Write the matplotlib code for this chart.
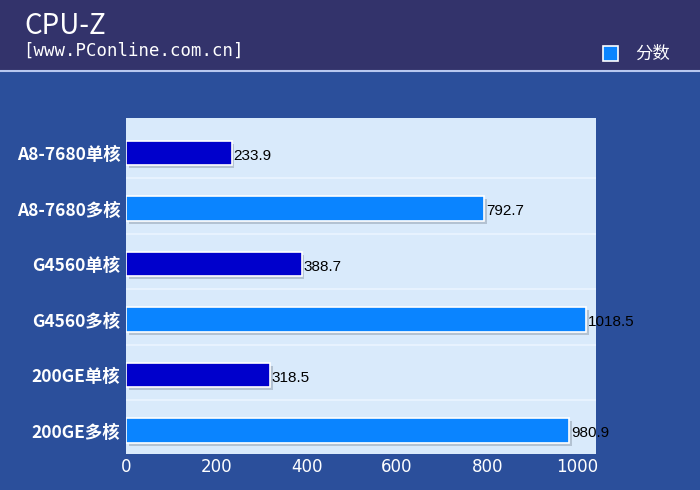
import numpy as np
import matplotlib.pyplot as plt
import matplotlib.patheffects as pe
from matplotlib.patches import Rectangle

plt.rcParams['font.family'] = ['Noto Sans CJK SC', 'DejaVu Sans']

# Daten
kategorien = ['A8-7680单核', 'A8-7680多核', 'G4560单核', 'G4560多核', '200GE单核', '200GE多核']
werte = [233.9, 792.7, 388.7, 1018.5, 318.5, 980.9]
farben = ['#0000cc', '#0a84ff', '#0000cc', '#0a84ff', '#0000cc', '#0a84ff']
xticks = [0, 200, 400, 600, 800, 1000]

fig = plt.figure(figsize=(7, 4.9), dpi=100, facecolor='#2b4f9b')

# Kopfbereich
fig.patches.append(Rectangle((0, 0.855), 1, 0.145, transform=fig.transFigure,
                             facecolor='#33336b', edgecolor='none', zorder=0))
fig.lines.append(plt.Line2D([0, 1], [0.855, 0.855], transform=fig.transFigure,
                            color='#b8c8f0', lw=1.5))
fig.text(0.035, 0.947, 'CPU-Z', color='white', fontsize=20, va='center', ha='left')
fig.text(0.033, 0.897, '[www.PConline.com.cn]', color='white', fontsize=12.5,
         va='center', ha='left', family='DejaVu Sans Mono')
fig.patches.append(Rectangle((0.862, 0.876), 0.021, 0.031, transform=fig.transFigure,
                             facecolor='#0a84ff', edgecolor='white', lw=1.2))
fig.text(0.907, 0.891, '分数', color='white', fontsize=12.5, va='center', ha='left')

ax = fig.add_axes([0.18, 0.0735, 0.671, 0.6855])
ax.set_facecolor('#d9eafb')

y = np.arange(len(kategorien))
balken = ax.barh(y, werte, height=0.44, color=farben, edgecolor='white', lw=1.2, zorder=3)
for b in balken:
    b.set_path_effects([pe.SimplePatchShadow(offset=(2, -2), shadow_rgbFace='#9aa8b8', alpha=0.6),
                        pe.Normal()])

for yi, w in zip(y, werte):
    ax.text(w + 4, yi + 0.05, f'{w}', va='center', ha='left', fontsize=11,
            color='black', family='Liberation Sans', zorder=4)

# Trennlinien zwischen den Zeilen
for yi in y[:-1]:
    ax.axhline(yi + 0.45, color='#eaf4ff', lw=1.2, zorder=1)

ax.set_xlim(0, 1040)
ax.set_ylim(5.42, -0.63)
ax.set_yticks(y)
ax.set_yticklabels(kategorien, color='white', fontsize=12.5, fontweight='bold')
ax.set_xticks(xticks)
ax.set_xticklabels([str(t) for t in xticks], color='white', fontsize=12, family='DejaVu Sans')
ax.tick_params(length=0, pad=4)
ax.tick_params(axis='x', pad=3)
for s in ax.spines.values():
    s.set_visible(False)

plt.savefig('out.png', dpi=100, facecolor=fig.get_facecolor())
